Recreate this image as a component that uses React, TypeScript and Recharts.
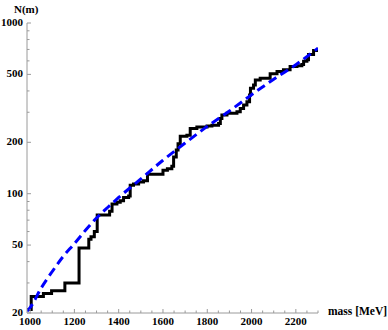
import { LineChart, Line, XAxis, YAxis } from 'recharts'

// cumulative count (step line)
const stepMass = [986, 1005, 1060, 1097, 1157, 1221, 1265, 1275, 1290, 1303, 1359, 1370, 1392, 1407, 1422, 1445, 1452, 1467, 1490, 1512, 1530, 1600, 1620, 1640, 1648, 1660, 1668, 1678, 1708, 1723, 1753, 1799, 1821, 1851, 1859, 1866, 1889, 1934, 1949, 1964, 1979, 1991, 1995, 2009, 2017, 2039, 2084, 2115, 2144, 2174, 2205, 2227, 2235, 2250, 2257, 2280, 2300]
const stepCount = [21, 25, 26, 27, 30, 48, 54, 56, 60, 75, 79, 87, 89, 91, 95, 97, 112, 114, 117, 119, 130, 137, 140, 145, 164, 180, 196, 217, 220, 241, 246, 249, 252, 258, 276, 289, 296, 302, 316, 331, 346, 379, 415, 434, 464, 475, 504, 520, 532, 557, 562, 572, 596, 610, 653, 690, 715]

// dashed fit curve
const fitMass = [986, 1000, 1050, 1100, 1150, 1200, 1250, 1300, 1350, 1400, 1500, 1600, 1700, 1800, 1900, 2000, 2100, 2200, 2300]
const fitCount = [20.5, 21.5, 28, 35, 43, 51, 61, 72, 83, 95, 122, 157, 198, 248, 305, 380, 468, 570, 712]

const xMajor = [1000, 1200, 1400, 1600, 1800, 2000, 2200]
const xTicks = [1000, 1050, 1100, 1150, 1200, 1250, 1300, 1350, 1400, 1450, 1500, 1550, 1600, 1650, 1700, 1750, 1800, 1850, 1900, 1950, 2000, 2050, 2100, 2150, 2200, 2250, 2300]
const yMajor = [20, 50, 100, 200, 500, 1000]
const yTicks = [20, 30, 40, 50, 60, 70, 80, 90, 100, 200, 300, 400, 500, 600, 700, 800, 900, 1000]

const stepData = stepMass.map((m, i) => ({ m, n: stepCount[i] }))
const fitData = fitMass.map((m, i) => ({ m, n: fitCount[i] }))

const FONT = '"Liberation Serif", "Times New Roman", serif'
const AXIS = '#9a9a9a'

function XTick(props: any) {
  const { x, y, payload } = props
  const major = xMajor.includes(payload.value)
  return (
    <g>
      <line x1={x} x2={x} y1={y} y2={y - (major ? 4 : 2.5)} stroke={AXIS} strokeWidth={1} />
      {major && (
        <text x={x} y={y + 4} dy="0.71em" textAnchor="middle" fontFamily={FONT} fontWeight="bold" fontSize={11} fill="#000">
          {payload.value}
        </text>
      )}
    </g>
  )
}

function YTick(props: any) {
  const { x, y, payload } = props
  const major = yMajor.includes(payload.value)
  return (
    <g>
      <line x1={x} x2={x + (major ? 4 : 2.5)} y1={y} y2={y} stroke={AXIS} strokeWidth={1} />
      {major && (
        <text x={x - 4} y={y - 1} dy="0.35em" textAnchor="end" fontFamily={FONT} fontWeight="bold" fontSize={11} fill="#000">
          {payload.value}
        </text>
      )}
    </g>
  )
}

export default function App() {
  return (
    <div style={{ position: 'relative', width: 388, height: 330, background: '#fff' }}>
      <style>{'body{margin:0}'}</style>
      <LineChart width={388} height={330} margin={{ top: 23, right: 70, bottom: 0, left: 0 }}>
        <XAxis
          type="number"
          dataKey="m"
          domain={[986, 2300]}
          allowDataOverflow
          ticks={xTicks}
          interval={0}
          tick={<XTick />}
          tickLine={false}
          tickSize={0}
          tickMargin={0}
          height={17}
          axisLine={{ stroke: AXIS }}
        />
        <YAxis
          type="number"
          dataKey="n"
          scale="log"
          domain={[20, 1000]}
          allowDataOverflow
          ticks={yTicks}
          interval={0}
          tick={<YTick />}
          tickLine={false}
          tickSize={0}
          tickMargin={0}
          width={27}
          axisLine={{ stroke: AXIS }}
        />
        <Line data={stepData} dataKey="n" type="stepAfter" stroke="#000" strokeWidth={3} dot={false} isAnimationActive={false} />
        <Line data={fitData} dataKey="n" type="monotone" stroke="#0000ff" strokeWidth={3} strokeDasharray="9 5" dot={false} isAnimationActive={false} />
      </LineChart>
      <div style={{ position: 'absolute', left: 14, top: 3, fontFamily: FONT, fontWeight: 'bold', fontSize: 11 }}>N(m)</div>
      <div style={{ position: 'absolute', left: 328, top: 305, fontFamily: FONT, fontWeight: 'bold', fontSize: 11.5 }}>mass [MeV]</div>
    </div>
  )
}
